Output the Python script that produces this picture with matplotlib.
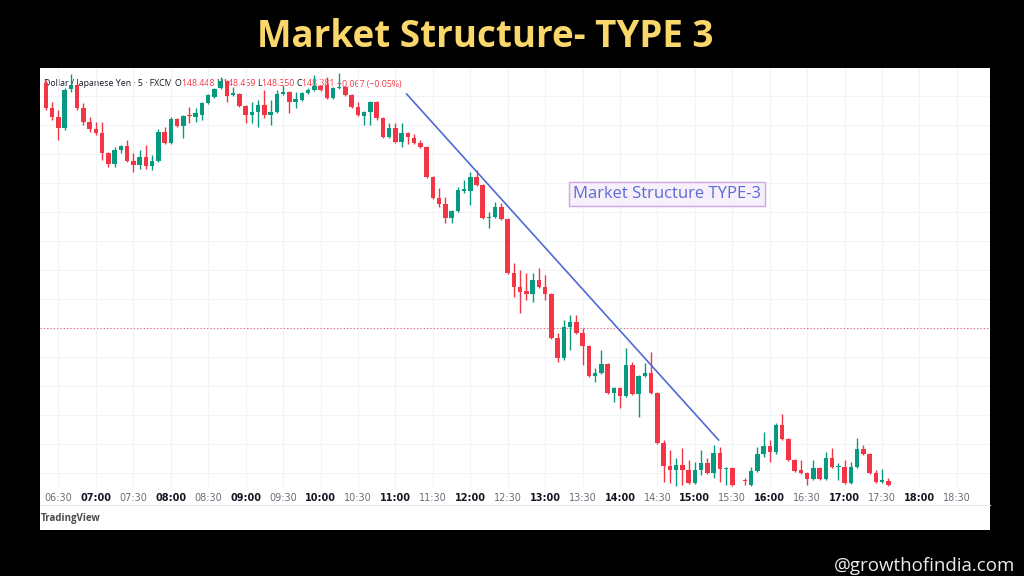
import matplotlib

matplotlib.use("Agg")
import matplotlib.pyplot as plt
import numpy as np
from matplotlib.lines import Line2D
from matplotlib.offsetbox import AnchoredOffsetbox, HPacker, TextArea
from matplotlib.patches import Rectangle
from matplotlib.ticker import MultipleLocator

W, H = 1024, 576

# USD/JPY, 5 minute candles, first bar at 06:20 (NaN = no bar)
first_bar = "06:20"
opens = [
    148.834, 148.784, 148.766, 148.744, 148.822, 148.830, 148.784, 148.756, 148.742, 148.734,
    148.694, 148.672, 148.700, 148.708, 148.678, 148.670, 148.686, 148.668, 148.678, 148.736,
    148.714, 148.762, 148.748, 148.770, 148.766, 148.770, 148.794, 148.806, 148.824, 148.838,
    148.810, 148.812, 148.788, 148.770, 148.776, 148.790, 148.770, 148.776, 148.812, 148.816,
    148.796, 148.800, 148.814, 148.820, 148.828, 148.830, 148.804, 148.824, 148.826, 148.810,
    148.786, 148.768, 148.776, 148.796, 148.764, 148.726, 148.744, 148.716, 148.734, 148.724,
    148.714, 148.706, 148.646, 148.604, 148.592, 148.564, 148.578, 148.618, 148.618, 148.646,
    148.630, 148.564, 148.566, 148.586, 148.562, 148.454, 148.426, 148.418, 148.412, 148.440,
    148.426, 148.412, 148.324, 148.284, 148.346, 148.356, 148.334, 148.308, 148.248, 148.254,
    148.272, 148.214, 148.224, 148.208, 148.270, 148.212, 148.248, 148.254, 148.214, 148.114,
    148.068, 148.060, 148.070, 148.060, 148.034, 148.060, 148.074, 148.054, 148.094, 148.062,
    148.064, np.nan, 148.040, 148.030, 148.058, 148.092, 148.108, 148.096, 148.150, 148.122,
    148.080, 148.060, 148.054, 148.042, 148.064, 148.042, 148.084, 148.066, 148.066, 148.034,
    148.066, 148.102, 148.092, 148.054, 148.036, 148.038,
]
highs = [
    148.840, 148.796, 148.780, 148.824, 148.852, 148.832, 148.794, 148.766, 148.756, 148.756,
    148.696, 148.706, 148.710, 148.720, 148.694, 148.700, 148.710, 148.690, 148.742, 148.746,
    148.766, 148.764, 148.770, 148.786, 148.784, 148.796, 148.812, 148.824, 148.846, 148.840,
    148.826, 148.814, 148.790, 148.796, 148.800, 148.820, 148.800, 148.820, 148.830, 148.818,
    148.816, 148.816, 148.824, 148.850, 148.830, 148.846, 148.826, 148.854, 148.828, 148.812,
    148.796, 148.778, 148.798, 148.798, 148.766, 148.754, 148.754, 148.754, 148.736, 148.732,
    148.720, 148.708, 148.648, 148.624, 148.606, 148.580, 148.626, 148.640, 148.656, 148.660,
    148.632, 148.576, 148.596, 148.594, 148.564, 148.474, 148.460, 148.454, 148.454, 148.464,
    148.450, 148.414, 148.334, 148.360, 148.370, 148.370, 148.344, 148.310, 148.264, 148.300,
    148.274, 148.226, 148.226, 148.304, 148.276, 148.250, 148.274, 148.296, 148.216, 148.120,
    148.100, 148.084, 148.104, 148.080, 148.076, 148.100, 148.084, 148.110, 148.106, 148.066,
    148.066, np.nan, 148.044, 148.066, 148.106, 148.136, 148.120, 148.154, 148.172, 148.124,
    148.082, 148.080, 148.056, 148.080, 148.066, 148.096, 148.104, 148.074, 148.080, 148.076,
    148.124, 148.110, 148.094, 148.060, 148.062, 148.044,
]
lows = [
    148.780, 148.760, 148.720, 148.740, 148.816, 148.780, 148.750, 148.736, 148.730, 148.680,
    148.666, 148.666, 148.694, 148.676, 148.656, 148.662, 148.662, 148.660, 148.676, 148.712,
    148.712, 148.746, 148.724, 148.754, 148.756, 148.760, 148.792, 148.804, 148.822, 148.796,
    148.808, 148.786, 148.754, 148.754, 148.746, 148.764, 148.750, 148.774, 148.810, 148.774,
    148.784, 148.798, 148.812, 148.818, 148.818, 148.802, 148.802, 148.822, 148.808, 148.784,
    148.768, 148.750, 148.750, 148.760, 148.724, 148.724, 148.714, 148.706, 148.712, 148.712,
    148.704, 148.644, 148.602, 148.586, 148.554, 148.554, 148.576, 148.614, 148.590, 148.628,
    148.562, 148.544, 148.564, 148.560, 148.452, 148.406, 148.374, 148.400, 148.396, 148.424,
    148.400, 148.322, 148.276, 148.280, 148.300, 148.332, 148.270, 148.246, 148.236, 148.252,
    148.212, 148.196, 148.184, 148.206, 148.210, 148.166, 148.246, 148.212, 148.112, 148.036,
    148.034, 148.028, 148.030, 148.032, 148.032, 148.050, 148.052, 148.044, 148.036, 148.030,
    148.028, np.nan, 148.030, 148.028, 148.056, 148.086, 148.076, 148.092, 148.120, 148.078,
    148.056, 148.052, 148.030, 148.040, 148.040, 148.040, 148.064, 148.040, 148.032, 148.032,
    148.064, 148.090, 148.052, 148.034, 148.034, 148.028,
]
closes = [
    148.784, 148.766, 148.744, 148.820, 148.830, 148.784, 148.756, 148.742, 148.734, 148.694,
    148.672, 148.700, 148.708, 148.678, 148.670, 148.686, 148.668, 148.678, 148.736, 148.714,
    148.762, 148.748, 148.768, 148.768, 148.774, 148.794, 148.810, 148.822, 148.838, 148.808,
    148.814, 148.788, 148.770, 148.776, 148.790, 148.770, 148.776, 148.812, 148.816, 148.796,
    148.802, 148.814, 148.820, 148.828, 148.820, 148.804, 148.824, 148.826, 148.810, 148.786,
    148.770, 148.776, 148.796, 148.764, 148.726, 148.744, 148.716, 148.734, 148.726, 148.714,
    148.706, 148.646, 148.604, 148.592, 148.564, 148.578, 148.620, 148.622, 148.646, 148.630,
    148.564, 148.566, 148.586, 148.562, 148.454, 148.426, 148.416, 148.412, 148.440, 148.426,
    148.412, 148.324, 148.284, 148.346, 148.356, 148.334, 148.308, 148.248, 148.254, 148.272,
    148.214, 148.224, 148.208, 148.270, 148.212, 148.248, 148.254, 148.214, 148.114, 148.068,
    148.060, 148.070, 148.060, 148.034, 148.060, 148.074, 148.054, 148.094, 148.062, 148.064,
    148.030, np.nan, 148.038, 148.058, 148.092, 148.108, 148.096, 148.150, 148.122, 148.080,
    148.058, 148.054, 148.042, 148.064, 148.042, 148.084, 148.066, 148.068, 148.034, 148.066,
    148.102, 148.092, 148.054, 148.036, 148.040, 148.030,
]

tick_times = [
    "06:30", "07:00", "07:30", "08:00", "08:30", "09:00", "09:30", "10:00", "10:30",
    "11:00", "11:30", "12:00", "12:30", "13:00", "13:30", "14:00", "14:30", "15:00",
    "15:30", "16:00", "16:30", "17:00", "17:30", "18:00", "18:30",
]

prev_close = 148.344
trend_bars = [57.8, 107.8]
trend_prices = [148.812, 148.120]
note_bar, note_price = 99.5, 148.612
note_text = "Market Structure TYPE-3"

legend_parts = [
    ("Dollar / Japanese Yen · 5 · FXCM ", "#131722"),
    ("O", "#131722"), ("148.448 ", "#F23645"),
    ("H", "#131722"), ("148.469 ", "#F23645"),
    ("L", "#131722"), ("148.350 ", "#F23645"),
    ("C", "#131722"), ("148.381 ", "#F23645"),
    ("−0.067 (−0.05%)", "#F23645"),
]

UP = "#089981"
DOWN = "#F23645"


def to_minutes(hhmm):
    h, m = hhmm.split(":")
    return int(h) * 60 + int(m)


fig = plt.figure(figsize=(W / 100, H / 100), dpi=100, facecolor="black")

# white chart panel of the screenshot
fig.add_artist(Rectangle((40 / W, 1 - 530 / H), 950 / W, 462 / H,
                         transform=fig.transFigure, facecolor="white",
                         edgecolor="none", zorder=0))
fig.add_artist(Line2D([40 / W, 990 / W], [1 - 505 / H, 1 - 505 / H],
                      color="#e6e8ee", lw=0.8, zorder=1))

ax = fig.add_axes([40 / W, 1 - 487 / H, 950 / W, 419 / H])
ax.set_facecolor("none")
for s in ax.spines.values():
    s.set_visible(False)

o = np.array(opens)
hi = np.array(highs)
lo = np.array(lows)
c = np.array(closes)
x = np.arange(len(o))
ok = ~np.isnan(o)
up = c >= o
cols = np.where(up, UP, DOWN)

ax.vlines(x[ok], lo[ok], hi[ok], colors=cols[ok], lw=1.0, zorder=3)
body = np.maximum(np.abs(c - o), 0.002)
ax.bar(x[ok], body[ok], bottom=np.minimum(o, c)[ok], width=0.72,
       color=cols[ok], linewidth=0, zorder=4)

ax.axhline(prev_close, color=DOWN, lw=0.8, ls=(0, (1, 2)), alpha=0.8, zorder=2)
ax.plot(trend_bars, trend_prices, color="#5069d4", lw=1.2, zorder=5)
ax.text(note_bar, note_price, note_text, ha="center", va="center",
        fontsize=12, color="#5a6bd6", family="Open Sans", zorder=6,
        bbox=dict(boxstyle="square,pad=0.25", fc="#f7f0fb", ec="#cda6e4", lw=1))

t0 = to_minutes(first_bar)
ticks = [(to_minutes(t) - t0) / 5 for t in tick_times]
ax.set_xticks(ticks)
ax.set_xticklabels(tick_times)
for lab, t in zip(ax.get_xticklabels(), tick_times):
    if t.endswith(":00"):
        lab.set_fontweight("bold")
        lab.set_color("#131722")
    else:
        lab.set_color("#6a6d78")
ax.tick_params(axis="x", length=0, pad=4, labelsize=7)
ax.tick_params(axis="y", length=0, labelleft=False)
ax.yaxis.set_major_locator(MultipleLocator(0.058, offset=0.038))
ax.grid(True, color="#f0f3fa", lw=0.8, zorder=0)
ax.set_xlim(-0.96, 151.3)
ax.set_ylim(148.026, 148.864)

# legend line of the chart (drawn beneath the candles)
pieces = [TextArea(s, textprops=dict(color=col, fontsize=6.3, family="Open Sans"))
          for s, col in legend_parts]
box = AnchoredOffsetbox(loc="center left", child=HPacker(children=pieces, pad=0, sep=0),
                        pad=0, frameon=False, bbox_to_anchor=(44 / W, 1 - 84 / H),
                        bbox_transform=fig.transFigure, borderpad=0)
box.set_zorder(1)
ax.add_artist(box)

fig.text(485 / W, 1 - 37 / H, "Market Structure- TYPE 3", ha="center", va="center",
         fontsize=26.5, fontweight="bold", color="#FAD76A", family="Open Sans")
fig.text(41 / W, 1 - 518 / H, "TradingView", ha="left", va="center",
         fontsize=7, fontweight="bold", color="#4a4a4a", family="Open Sans")
fig.text(1015 / W, 1 - 566 / H, "@growthofindia.com", ha="right", va="center",
         fontsize=13.5, color="#ececec", family="Open Sans")

fig.savefig("out.png", dpi=100, facecolor="black")
